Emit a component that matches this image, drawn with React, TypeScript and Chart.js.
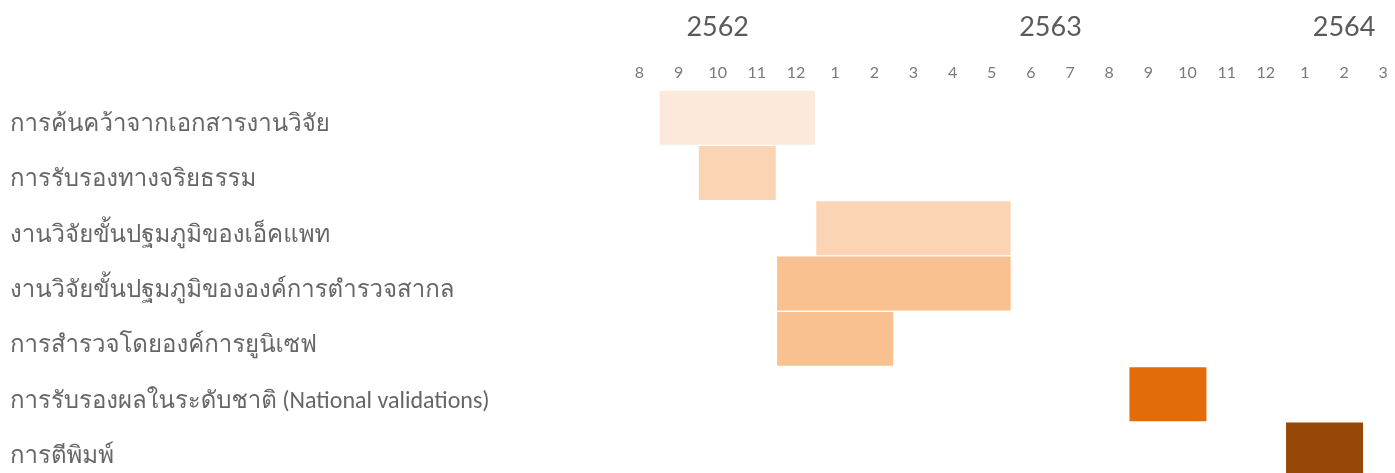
import React, { useEffect, useRef } from "react";
import { Chart, registerables } from "chart.js";

Chart.register(...registerables);

// Tasks (rows, top to bottom)
const tasks: string[] = [
  "การค้นคว้าจากเอกสารงานวิจัย",
  "การรับรองทางจริยธรรม",
  "งานวิจัยขั้นปฐมภูมิของเอ็คแพท",
  "งานวิจัยขั้นปฐมภูมิขององค์การตำรวจสากล",
  "การสำรวจโดยองค์การยูนิเซฟ",
  "การรับรองผลในระดับชาติ (National validations)",
  "การตีพิมพ์",
];

// Month columns on the timeline (Thai Buddhist years)
const monthLabels: string[] = ["8", "9", "10", "11", "12", "1", "2", "3", "4", "5", "6", "7", "8", "9", "10", "11", "12", "1", "2", "3"];
const monthYears: number[] = [2562, 2562, 2562, 2562, 2562, 2563, 2563, 2563, 2563, 2563, 2563, 2563, 2563, 2563, 2563, 2563, 2563, 2564, 2564, 2564];

// First and last month column (index into monthLabels) of each task
const startMonth: number[] = [1, 2, 5, 4, 4, 13, 17];
const endMonth: number[] = [4, 3, 9, 9, 6, 14, 18];

const barColors: string[] = ["#FCE9DA", "#FBD4B4", "#FBD4B4", "#F9C090", "#F9C090", "#E36C0A", "#984806"];

const LABEL_FONT = 'Carlito, "Roboto Condensed", Lato, Loma, "Noto Sans Thai", sans-serif';
const AXIS_FONT = 'Lato, "Noto Sans", sans-serif';

export default function App() {
  const ref = useRef<HTMLCanvasElement | null>(null);

  useEffect(() => {
    if (!ref.current) return;
    const years = Array.from(new Set(monthYears));
    const yearCenters = years.map((y) => {
      const idx = monthYears.map((v, i) => (v === y ? i : -1)).filter((i) => i >= 0);
      return (idx[0] + idx[idx.length - 1]) / 2;
    });
    const minX = -0.7;
    const maxX = monthLabels.length - 0.7;

    const chart = new Chart(ref.current, {
      type: "bar",
      data: {
        // leading empty line drops each task name a little below the row centre
        labels: tasks.map((t) => ["", t]),
        datasets: [
          {
            data: tasks.map((_, i) => [startMonth[i] - 0.5, endMonth[i] + 0.5]) as any,
            backgroundColor: barColors,
            borderColor: "rgba(255,255,255,0.45)",
            borderWidth: 1,
            borderSkipped: false,
            barPercentage: 1,
            categoryPercentage: 1,
          },
        ],
      },
      options: {
        indexAxis: "y",
        animation: false,
        responsive: false,
        layout: { padding: { left: 10, right: 0, top: 0, bottom: 2 } },
        plugins: { legend: { display: false }, tooltip: { enabled: false } },
        scales: {
          y: {
            type: "category",
            grid: { display: false },
            border: { display: false },
            ticks: {
              crossAlign: "far",
              padding: 0,
              color: "#666666",
              font: { family: LABEL_FONT, size: 24, lineHeight: 0.62 },
            },
            afterFit: (s: any) => {
              s.width = 602;
            },
          },
          x: {
            type: "linear",
            position: "top",
            min: minX,
            max: maxX,
            weight: 0,
            grid: { display: false },
            border: { display: false },
            afterBuildTicks: (s: any) => {
              s.ticks = monthLabels.map((_, i) => ({ value: i }));
            },
            ticks: {
              autoSkip: false,
              maxRotation: 0,
              padding: 0,
              color: "#7a7a7a",
              font: { family: AXIS_FONT, size: 16 },
              callback: (_v: any, i: number) => monthLabels[i],
            },
            afterFit: (s: any) => {
              s.height = 40;
            },
          },
          years: {
            type: "linear",
            position: "top",
            min: minX,
            max: maxX,
            weight: 1,
            grid: { display: false },
            border: { display: false },
            afterBuildTicks: (s: any) => {
              s.ticks = yearCenters.map((v) => ({ value: v }));
            },
            ticks: {
              autoSkip: false,
              maxRotation: 0,
              padding: -1,
              color: "#5a5a5a",
              font: { family: AXIS_FONT, size: 27 },
              callback: (_v: any, i: number) => String(years[i]),
            },
            afterFit: (s: any) => {
              s.height = 50;
            },
          },
        },
      },
    });
    return () => chart.destroy();
  }, []);

  return (
    <div style={{ position: "fixed", left: 0, top: 0, width: 1395, height: 473, overflow: "hidden", background: "#fff" }}>
      <canvas ref={ref} width={1395} height={492} style={{ display: "block" }} />
    </div>
  );
}
